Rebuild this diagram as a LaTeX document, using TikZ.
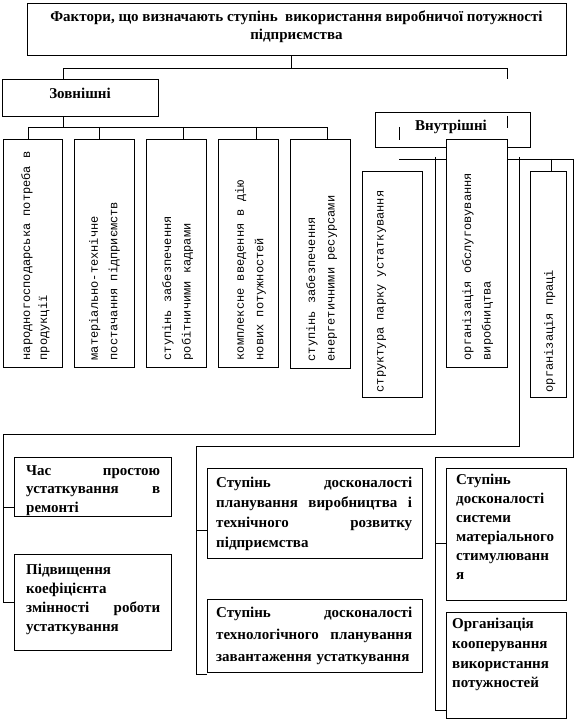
\documentclass[tikz,border=0pt]{standalone}
\usepackage{fontspec}
\usetikzlibrary{calc}
\setmainfont{Liberation Serif}
\newfontfamily\monof{Liberation Mono}
\newcommand\mkbox[5]{\node[box, minimum width={#4-#2}, minimum height={#5-#3}] (#1) at ({(#2+#4)/2},{(#3+#5)/2}) {};}
\begin{document}
\begin{tikzpicture}[x=1pt,y=-1pt,
  box/.style={draw, fill=white, inner sep=0pt, line width=0.9pt},
  conn/.style={draw, line width=0.9pt},
  btxt/.style={font=\fontsize{15}{19}\selectfont\bfseries, inner sep=0pt, anchor=north west, align=left},
  vtxt/.style={font=\fontsize{12}{19.5}\selectfont\monof, inner sep=0pt, anchor=north west, align=left, rotate=90}]
\useasboundingbox (0,0) rectangle (576,722);
% ---- connectors (behind boxes)
\draw[conn] (291,55) -- (291,68);
\draw[conn] (63,79) -- (63,68) -- (507,68) -- (507,79);
\draw[conn] (63,116) -- (63,127);
\draw[conn] (28,139) -- (28,127) -- (327,127) -- (327,139);
\foreach \xx in {99,183,256} \draw[conn] (\xx,127) -- (\xx,139);
\draw[conn] (399,159) -- (573,159);
\draw[conn] (551,159) -- (551,171);
\draw[conn] (435,157) -- (435,434) -- (3,434) -- (3,602) -- (14,602);
\draw[conn] (3,507) -- (14,507);
\draw[conn] (519,157) -- (519,446) -- (196,446) -- (196,674) -- (207,674);
\draw[conn] (196,530) -- (207,530);
\draw[conn] (573,159) -- (573,457) -- (435,457) -- (435,710) -- (446,710);
\draw[conn] (435,543) -- (446,543);
% ---- boxes
\mkbox{top}{27}{3}{566}{55}
\node[font=\fontsize{15}{18}\selectfont\bfseries, align=center, inner sep=0pt, anchor=north] at (296.5,11)
  {Фактори, що визначають ступінь\ \ використання виробничої потужності\\підприємства};
\mkbox{zov}{2}{79}{158}{116}
\node[font=\fontsize{15}{18}\selectfont\bfseries, inner sep=0pt, anchor=base] at (80,99) {Зовнішні};
\mkbox{vnu}{375}{112}{530}{147}
\node[font=\fontsize{15}{18}\selectfont\bfseries, inner sep=0pt, anchor=base] at (451,131) {Внутрішні};
\draw[conn] (507,116) -- (507,128);
\draw[conn] (399,127) -- (399,140);
% vertical boxes
\mkbox{v1}{3}{139}{62}{367}
\node[vtxt, font=\fontsize{12}{17}\selectfont\monof] at ($(v1.south west)+(18.5,-7)$) {народногосподарська потреба в\\продукції};
\mkbox{v2}{74}{139}{134}{367}
\node[vtxt] at ($(v2.south west)+(15.5,-7)$) {матеріально-технічне\\постачання підприємств};
\mkbox{v3}{146}{139}{206}{367}
\node[vtxt] at ($(v3.south west)+(16.5,-7)$) {ступінь забезпечення\\робітничими кадрами};
\mkbox{v4}{218}{139}{278}{367}
\node[vtxt] at ($(v4.south west)+(17.5,-7)$) {комплексне введення в дію\\нових потужностей};
\mkbox{v5}{290}{139}{350}{368}
\node[vtxt] at ($(v5.south west)+(16.5,-7)$) {ступінь забезпечення\\енергетичними ресурсами};
\mkbox{v6}{362}{171}{422}{397}
\node[vtxt] at ($(v6.south west)+(15.5,-5)$) {структура парку устаткування};
\mkbox{v7}{446}{139}{507}{367}
\node[vtxt] at ($(v7.south west)+(16.5,-7)$) {організація обслуговування\\виробництва};
\mkbox{v8}{530}{171}{566}{397}
\node[vtxt] at ($(v8.south west)+(14.5,-5)$) {організація праці};
% bottom boxes
\mkbox{c1}{14}{457}{171}{516}
\node[btxt, text width=134pt, font=\fontsize{15}{18.5}\selectfont\bfseries] at (26,465) {Час\hfill простою\\устаткування\hfill в\\ремонті};
\mkbox{c2}{14}{554}{171}{650}
\node[btxt, text width=134pt] at (26,564) {Підвищення\\коефіцієнта\\змінності\hfill роботи\\устаткування};
\mkbox{c3}{207}{468}{422}{558}
\node[btxt, text width=196pt, font=\fontsize{15}{20}\selectfont\bfseries] at (216,477) {Ступінь\hfill досконалості\\планування\hfill виробництва\hfill і\\технічного\hfill розвитку\\підприємства};
\mkbox{c4}{207}{599}{422}{672}
\node[btxt, text width=196pt, font=\fontsize{15}{22}\selectfont\bfseries] at (216,607) {Ступінь\hfill досконалості\\технологічного\hfill планування\\завантаження устаткування};
\mkbox{c5}{446}{468}{566}{600}
\node[btxt, text width=107pt] at (456,474) {Ступінь\\досконалості\\системи\\матеріального\\стимулюванн\\я};
\mkbox{c6}{446}{612}{566}{718}
\node[btxt, text width=108pt, font=\fontsize{15}{19.7}\selectfont\bfseries] at (452,618) {Організація\\кооперування\\використання\\потужностей};
\end{tikzpicture}
\end{document}
